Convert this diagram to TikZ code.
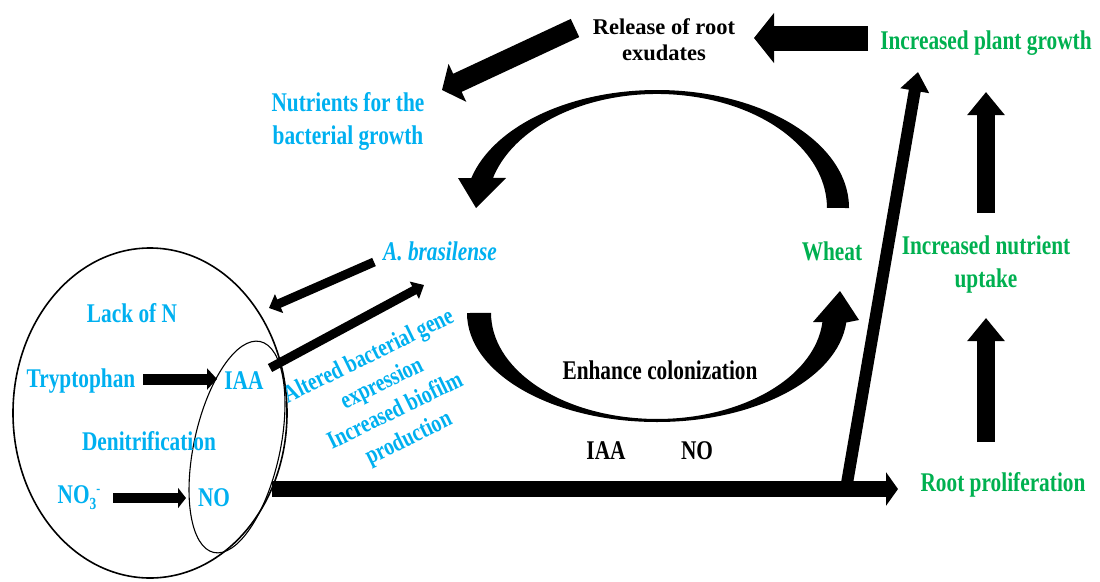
\documentclass[tikz,border=0pt]{standalone}
\usepackage{fontspec}
\setmainfont{Liberation Serif}[FakeStretch=0.79]
\newfontfamily\relfont{Liberation Serif}
\usetikzlibrary{arrows.meta,shapes.geometric}
\definecolor{cyanb}{HTML}{00B0F0}
\definecolor{greenb}{HTML}{00B050}
\begin{document}
\begin{tikzpicture}[x=1pt,y=-1pt,
  txt/.style={font=\fontsize{27}{33}\selectfont\bfseries, align=center, inner sep=0pt},
  bluetxt/.style={txt, text=cyanb},
  greentxt/.style={txt, text=greenb},
  blacktxt/.style={txt, text=black},
  barrow/.style n args={3}{line width=#1pt, -{Triangle[length=#2pt,width=#3pt]}},
  band/.style={fill=black}]
\useasboundingbox (0,0) rectangle (1100,581);

% cell and overlapping zone
\node[draw, ellipse, line width=1.6pt, minimum width=274pt, minimum height=330pt, inner sep=0pt] (cell) at (150,413) {};
\node[draw, ellipse, line width=1.1pt, minimum width=86pt, minimum height=216pt, inner sep=0pt, rotate=-12.4] (zone) at (237,447) {};

% texts
\node[greentxt] (plant) at (986,43) {Increased plant growth};
\node[txt, font=\relfont\fontsize{22.5}{26}\selectfont\bfseries] (release) at (664,40) {Release of root\\exudates};
\node[bluetxt] (nutr) at (348,121) {Nutrients for the\\bacterial growth};
\node[bluetxt, font=\fontsize{27}{33}\selectfont\bfseries\itshape] (azo) at (440,251) {A. brasilense};
\node[greentxt] (wheat) at (832,251) {Wheat};
\node[greentxt] (uptake) at (986,265) {Increased nutrient\\uptake};
\node[greentxt] (root) at (1003,485) {Root proliferation};
\node[blacktxt] (colon) at (660,370) {Enhance colonization};
\node[blacktxt] (iaab) at (606,451) {IAA};
\node[blacktxt] (nob) at (697,451) {NO};
\node[bluetxt] (lack) at (132,313) {Lack of N};
\node[bluetxt] (trp) at (81,381) {Tryptophan};
\node[bluetxt] (iaa) at (244,381) {IAA};
\node[bluetxt] (denit) at (149,441) {Denitrification};
\node[bluetxt] (no3) at (79,498) {NO\raisebox{-6pt}{\fontsize{17}{17}\selectfont 3}\raisebox{10pt}{\fontsize{15}{15}\selectfont -}};
\node[bluetxt] (no) at (214,498) {NO};
\node[bluetxt, font=\fontsize{25}{30.5}\selectfont\bfseries, rotate=26] (alter) at (389,398) {Altered bacterial gene\\expression\\Increased biofilm\\production};

% arrow end points
\coordinate (pgA) at (868,38);   \coordinate (pgB) at (754,38);
\coordinate (reA) at (575,28);   \coordinate (reB) at (442,90);
\coordinate (azA) at (374,262);  \coordinate (azB) at (269,308);
\coordinate (iaA) at (270,368);  \coordinate (iaB) at (424,285);
\coordinate (trA) at (143,379);  \coordinate (trB) at (217,379);
\coordinate (noA) at (113,498);  \coordinate (noB) at (186,498);
\coordinate (loA) at (272,489);  \coordinate (loB) at (898,489);
\coordinate (diA) at (846,489);  \coordinate (diB) at (918,72);
\coordinate (upA) at (986,213);  \coordinate (upB) at (986,92);
\coordinate (lwA) at (986,442);  \coordinate (lwB) at (986,318);

\draw[barrow={25}{20}{49}] (pgA) -- (pgB);
\draw[barrow={20}{17}{41}] (reA) -- (reB);
\draw[barrow={9}{11}{20}] (azA) -- (azB);
\draw[barrow={9}{11}{19}] (iaA) -- (iaB);
\draw[barrow={11}{10}{21}] (trA) -- (trB);
\draw[barrow={10}{8}{20}] (noA) -- (noB);
\draw[barrow={16}{12}{33}] (loA) -- (loB);
\draw[barrow={12}{19}{28}] (diA) -- (diB);
\draw[barrow={18}{23}{36}] (upA) -- (upB);
\draw[barrow={18}{23}{36}] (lwA) -- (lwB);

% curved arrow: wheat -> A. brasilense (top)
\fill[band] (849,208) arc[start angle=0, end angle=-165.3, x radius=192, y radius=118]
  -- (458,178) -- (476,208) -- (506,178) -- (493,177.9)
  arc[start angle=-164.7, end angle=0, x radius=170, y radius=114] -- cycle;

% curved arrow: A. brasilense -> wheat (bottom)
\fill[band] (467,313) arc[start angle=180, end angle=5, x radius=190, y radius=109]
  -- (859,320) -- (840,291) -- (813,322) -- (822.4,322.2)
  arc[start angle=5, end angle=180, x radius=166, y radius=106] -- cycle;
\end{tikzpicture}
\end{document}
